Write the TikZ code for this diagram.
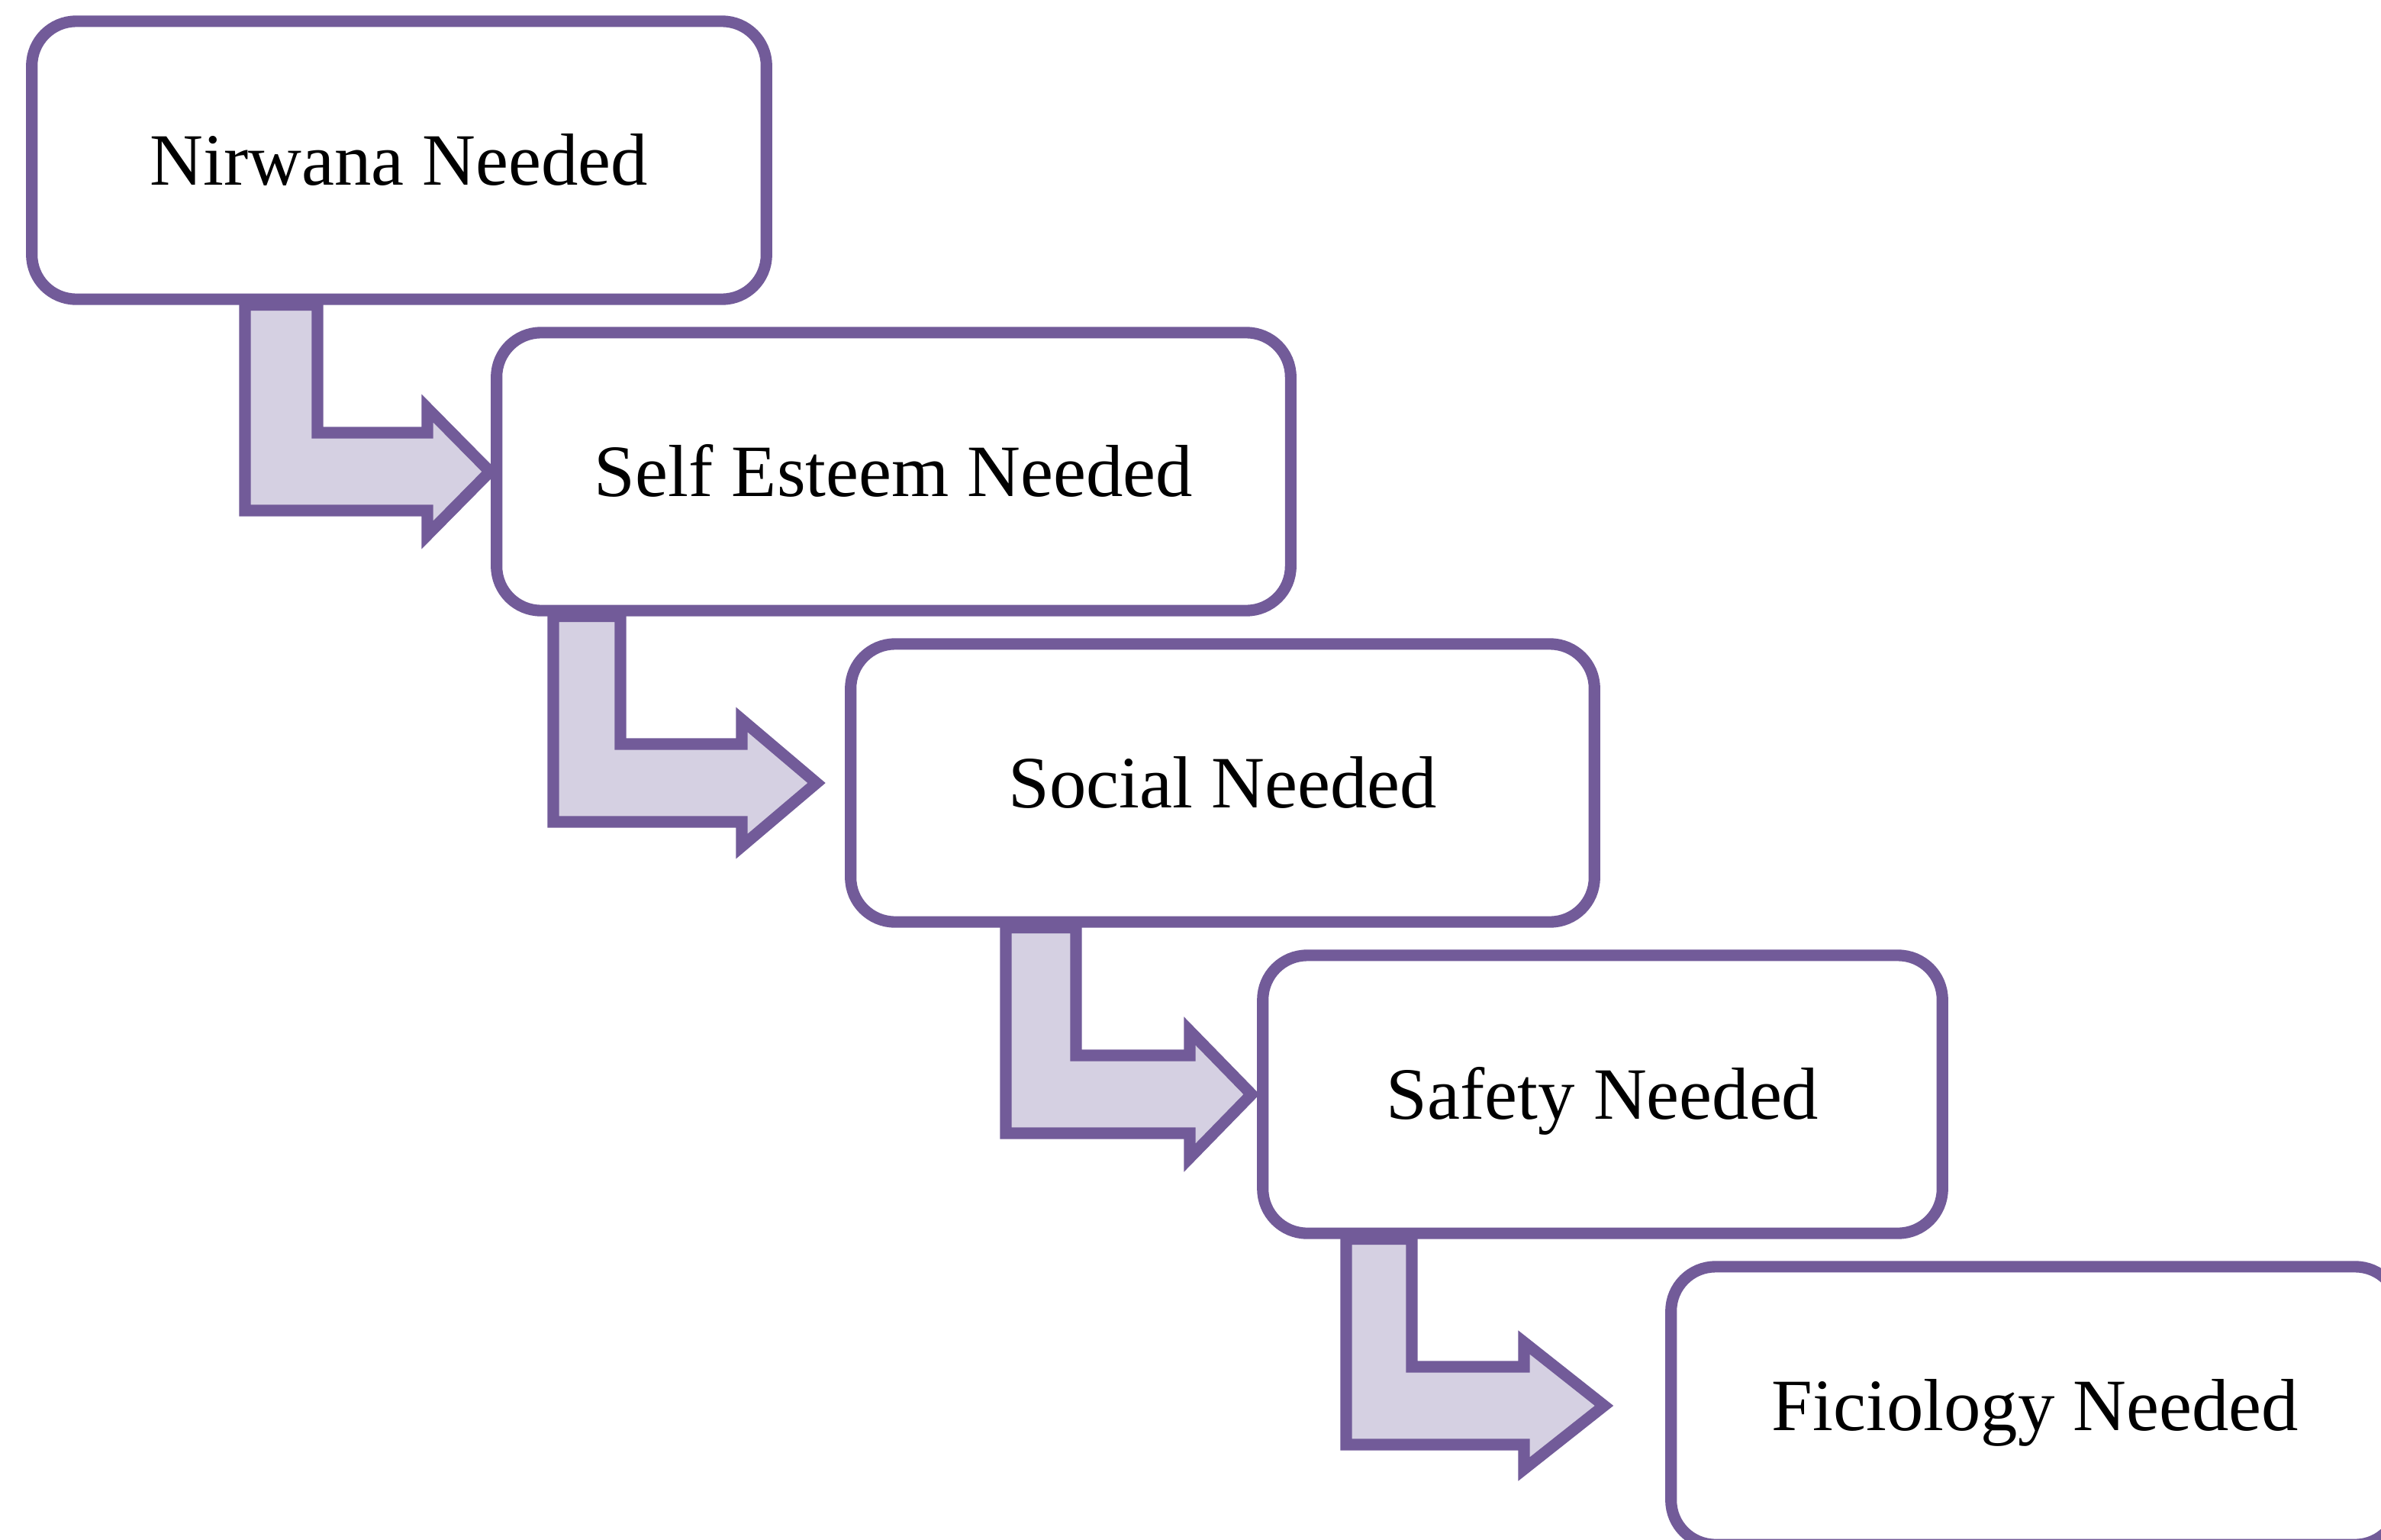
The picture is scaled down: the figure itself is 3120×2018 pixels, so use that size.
\documentclass[tikz,border=0pt]{standalone}
\usepackage{fontspec}
\setmainfont{Liberation Serif}
\usetikzlibrary{calc}
\pgfdeclarelayer{bg}
\pgfsetlayers{bg,main}
\definecolor{purp}{RGB}{114,91,153}
\definecolor{lav}{RGB}{213,208,226}
\tikzset{
  needbox/.style={draw=purp, fill=white, line width=4.3pt, rounded corners=0.58cm,
    minimum height=3.64cm, inner sep=0pt, text height=18.5pt, text depth=0pt,
    font=\fontsize{27.5}{33}\selectfont},
  bent/.style={draw=purp, fill=lav, line width=4.3pt, line join=miter},
}
% #1 from box, #2 to box, #3 shaft left x, #4 shaft right x, #5 head back x, #6 tip x (px)
\newcommand\bentarrow[6]{%
  \draw[bent] let \p1=(#1.south), \p2=(#2.center) in
    ({#3*0.01cm},\y1) -- ({#4*0.01cm},\y1) -- ({#4*0.01cm},{\y2+0.51cm})
    -- ({#5*0.01cm},{\y2+0.51cm}) -- ({#5*0.01cm},{\y2+0.83cm})
    -- ({#6*0.01cm},\y2) -- ({#5*0.01cm},{\y2-0.83cm})
    -- ({#5*0.01cm},{\y2-0.51cm}) -- ({#3*0.01cm},{\y2-0.51cm}) -- cycle;}
\begin{document}
\begin{tikzpicture}[x=0.01cm,y=-0.01cm]
\useasboundingbox (0,0) rectangle (3120,2018);
\clip (0,0) rectangle (3120,2018);
\node[needbox, minimum width=9.62cm]  (b1) at (523,210)   {Nirwana Needed};
\node[needbox, minimum width=10.40cm] (b2) at (1171,618)  {Self Esteem Needed};
\node[needbox, minimum width=9.74cm]  (b3) at (1602,1026) {Social Needed};
\node[needbox, minimum width=8.90cm]  (b4) at (2100,1434) {Safety Needed};
\node[needbox, minimum width=9.54cm]  (b5) at (2667,1842) {Ficiology Needed};
\begin{pgfonlayer}{bg}
\bentarrow{b1}{b2}{321}{416}{560}{642}
\bentarrow{b2}{b3}{725}{813}{972}{1070}
\bentarrow{b3}{b4}{1318}{1410}{1559}{1640}
\bentarrow{b4}{b5}{1764}{1850}{1997}{2102}
\end{pgfonlayer}
\end{tikzpicture}
\end{document}
